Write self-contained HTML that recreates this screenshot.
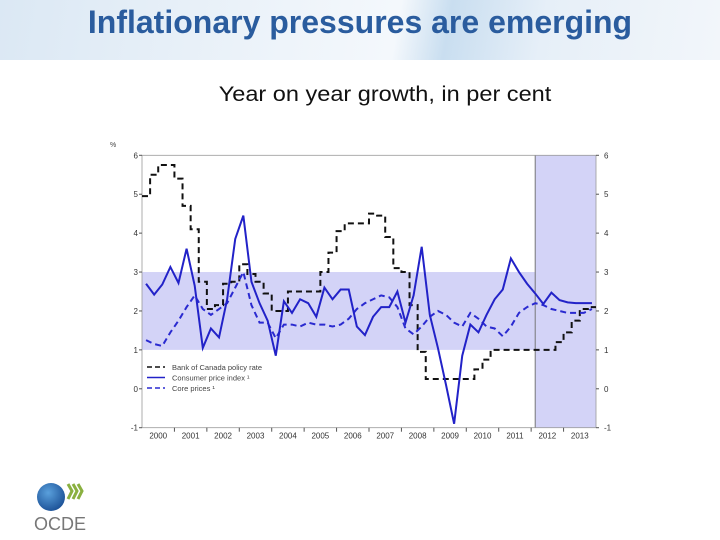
<!DOCTYPE html>
<html><head><meta charset="utf-8"><style>
body{margin:0;width:720px;height:540px;background:#fff;overflow:hidden;position:relative;font-family:"Liberation Sans",sans-serif}
#hdr{position:absolute;left:0;top:0;width:720px;height:60px;background:linear-gradient(100deg,#dbe8f4 0%,#eef4fa 40%,#f4f8fc 55%,#c9def0 62%,#e6eff8 75%,#f2f6fa 100%)}
#title{position:absolute;left:0;width:720px;top:4px;text-align:center;font-size:32px;font-weight:bold;color:#2a5c9e;letter-spacing:0px}
#sub{position:absolute;left:0;width:770px;top:83px;text-align:center;font-size:21px;color:#111;transform:scaleX(1.12);transform-origin:385px 0}
svg{position:absolute;left:0;top:0}
</style></head><body>
<div id="hdr"></div>
<div id="title">Inflationary pressures are emerging</div>
<div id="sub">Year on year growth, in per cent</div>
<svg id="chart" width="720" height="540"></svg>
<svg width="720" height="540">
<defs><radialGradient id="g" cx="0.4" cy="0.35" r="0.7"><stop offset="0" stop-color="#5aa0dc"/><stop offset="1" stop-color="#1a4f95"/></radialGradient></defs>
<circle cx="51" cy="497" r="14" fill="url(#g)"/>
<path d="M68 484 l4 7 -4 8 M73 484 l4 7 -4 8 M78 484 l4 7 -4 8" stroke="#8ab040" stroke-width="3" fill="none"/>
<text x="60" y="530" font-size="18" fill="#777" text-anchor="middle" font-family="Liberation Sans, sans-serif">OCDE</text>
</svg>
<script>
const years=["2000","2001","2002","2003","2004","2005","2006","2007","2008","2009","2010","2011","2012","2013"];
const yTicks=[-1,0,1,2,3,4,5,6];
const cpi=[2.7,2.42,2.68,3.13,2.72,3.6,2.65,1.05,1.55,1.32,2.3,3.85,4.45,2.75,2.2,1.75,0.85,2.25,1.95,2.3,2.2,1.85,2.6,2.3,2.55,2.55,1.6,1.38,1.85,2.1,2.1,2.5,1.7,2.4,3.65,1.9,1.05,0.1,-0.9,0.85,1.65,1.45,1.9,2.3,2.55,3.35,3.0,2.7,2.45,2.18,2.47,2.28,2.22,2.2,2.2,2.2];
const core=[1.25,1.15,1.1,1.45,1.75,2.1,2.4,2.05,1.9,2.05,2.2,2.6,3.0,2.15,1.7,1.7,1.3,1.65,1.65,1.6,1.7,1.65,1.65,1.6,1.65,1.8,2.05,2.2,2.3,2.4,2.35,2.1,1.55,1.4,1.6,1.85,2.0,1.9,1.7,1.6,1.95,1.8,1.6,1.55,1.35,1.6,1.95,2.1,2.2,2.15,2.05,2.0,1.95,1.95,1.95,2.05];
const policy=[4.95,5.5,5.75,5.75,5.4,4.7,4.1,2.75,2.05,2.15,2.7,2.75,3.2,2.95,2.75,2.45,2.0,2.0,2.5,2.5,2.5,2.5,3.0,3.5,4.05,4.25,4.25,4.25,4.5,4.45,3.9,3.1,3.0,2.15,0.95,0.25,0.25,0.25,0.25,0.25,0.25,0.5,0.75,1.0,1.0,1.0,1.0,1.0,1.0,1.0,1.0,1.2,1.45,1.75,2.05,2.1];
const targetBand=[1,3];
const projStart=2012.125;
const X0=142,X1=596,Y0=155.3,Y1=427.7,YMIN=-1,YMAX=6,T0=2000,T1=2014;
const x=t=>X0+(t-T0)/(T1-T0)*(X1-X0);
const y=v=>Y1-(v-YMIN)/(YMAX-YMIN)*(Y1-Y0);
const qx=i=>x(T0+(i+0.5)/4);
const svg=document.getElementById('chart');
const NS="http://www.w3.org/2000/svg";
function mk(tag,attrs,name,txt){const e=document.createElementNS(NS,tag);for(const k in attrs)e.setAttribute(k,attrs[k]);


if(txt!==undefined)e.textContent=txt;svg.appendChild(e);return e;}
mk('rect',{x:X0,y:y(targetBand[1]),width:X1-X0,height:y(targetBand[0])-y(targetBand[1]),fill:'#d3d3f7'},'target-band');
mk('rect',{x:x(projStart),y:Y0,width:X1-x(projStart),height:Y1-Y0,fill:'#d3d3f7'},'projection-shade');
mk('line',{x1:x(projStart),y1:Y0,x2:x(projStart),y2:Y1,stroke:'#777','stroke-width':1},'projection-divider');
mk('rect',{x:X0,y:Y0,width:X1-X0,height:Y1-Y0,fill:'none',stroke:'#999','stroke-width':0.8},'plot-frame');
yTicks.forEach(v=>{
 mk('text',{x:X0-4,y:y(v)+3,'font-size':8,'text-anchor':'end',fill:'#333'},'y-tick-left',String(v));
 mk('text',{x:X1+8,y:y(v)+3,'font-size':8,'text-anchor':'start',fill:'#333'},'y-tick-right',String(v));
 mk('line',{x1:X0-3,y1:y(v),x2:X0,y2:y(v),stroke:'#555'},'y-tick-mark');
 mk('line',{x1:X1,y1:y(v),x2:X1+3,y2:y(v),stroke:'#555'},'y-tick-mark');
});
years.forEach((yr,i)=>{
 mk('text',{x:x(T0+i+0.5),y:Y1+11,'font-size':8,'text-anchor':'middle',fill:'#333'},'x-tick-label',yr);
 if(i>0)mk('line',{x1:x(T0+i),y1:Y1,x2:x(T0+i),y2:Y1+4,stroke:'#555'},'x-tick-mark');
});
mk('text',{x:110,y:147,'font-size':7,fill:'#444'},'y-axis-unit','%');
let d='';policy.forEach((v,i)=>{const xa=x(T0+i/4),xb=x(T0+(i+1)/4);d+=(i?'L':'M')+xa+' '+y(v)+'L'+xb+' '+y(v);});
mk('path',{d:d,fill:'none',stroke:'#111','stroke-width':2,'stroke-dasharray':'6,4'},'policy-rate-line');
mk('path',{d:core.map((v,i)=>(i?'L':'M')+qx(i)+' '+y(v)).join(''),fill:'none',stroke:'#2a2ad0','stroke-width':2,'stroke-dasharray':'6,4'},'core-prices-line');
mk('path',{d:cpi.map((v,i)=>(i?'L':'M')+qx(i)+' '+y(v)).join(''),fill:'none',stroke:'#2222c8','stroke-width':2},'cpi-line');
const leg=[["Bank of Canada policy rate",'#111','5,3'],["Consumer price index ¹",'#2222c8',''],["Core prices ¹",'#2a2ad0','5,3']];
leg.forEach((l,i)=>{const yy=367+i*10.5;
 mk('line',{x1:147,y1:yy,x2:165,y2:yy,stroke:l[1],'stroke-width':1.6,'stroke-dasharray':l[2]},'legend-swatch');
 mk('text',{x:172,y:yy+3,'font-size':7.5,fill:'#444'},'legend-entry',l[0]);
});
</script>
</body></html>
